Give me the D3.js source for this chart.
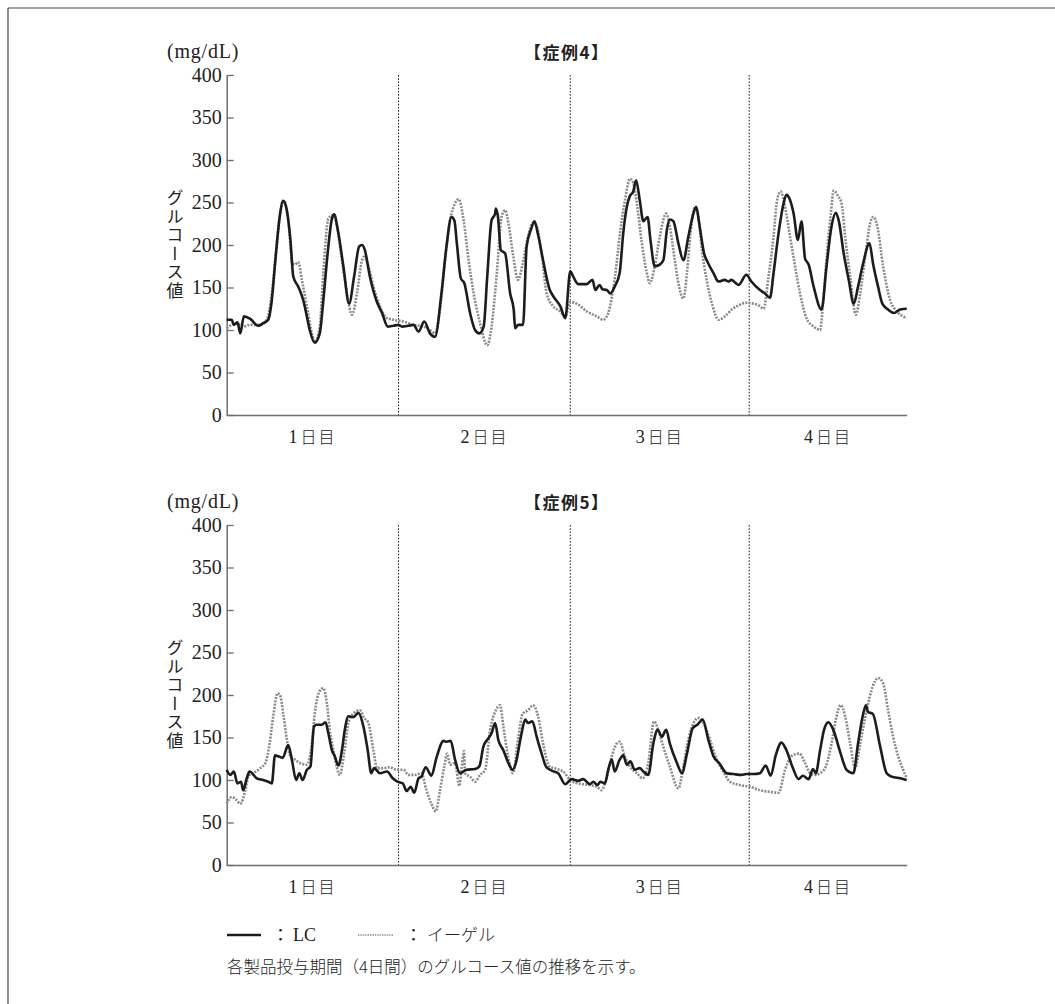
<!DOCTYPE html>
<html>
<head>
<meta charset="utf-8">
<script src="https://cdn.jsdelivr.net/npm/d3@7"></script>
<style>
body { margin: 0; background: #fff; }
</style>
</head>
<body>
<svg id="chart" width="1055" height="1004"></svg>
<script>
// 横軸は経過時間(h)、縦軸はグルコース値(mg/dL)
const DAY_LABELS = ["1", "2", "3", "4"];
const DAY_EDGES = [0, 24, 48, 73, 95]; // 各日の区切り(h)
const Y_TICKS = [0, 50, 100, 150, 200, 250, 300, 350, 400];

// 症例4 LC
const CASE4_LC = [[0,112],[0.7,112],[1.0,106],[1.5,109],[1.9,96],[2.4,116],[3.3,113],[4.4,105],[5.1,108],[5.8,112],[6.3,135],[6.8,182],[7.4,233],[7.9,252],[8.3,245],[8.9,206],[9.3,163],[10.0,151],[10.7,135],[11.2,116],[11.6,100],[12.3,85],[13.0,96],[13.5,135],[14.1,190],[14.7,231],[15.0,236],[15.6,214],[16.3,175],[17.1,131],[17.8,163],[18.5,198],[18.9,200],[19.3,194],[20.0,163],[20.9,135],[21.7,120],[22.5,104],[23.3,105],[24.0,106],[24.5,104],[25.4,105],[26.1,106],[26.8,98],[27.6,110],[28.4,96],[29.1,92],[30.0,143],[30.7,198],[31.4,233],[31.8,229],[32.2,198],[32.7,161],[33.2,155],[34.0,120],[34.7,100],[35.3,96],[35.9,104],[36.4,163],[37.0,229],[37.5,237],[37.6,243],[37.9,233],[38.3,194],[38.9,190],[39.6,143],[40.1,124],[40.3,102],[40.7,106],[41.4,106],[41.9,198],[42.5,218],[43.0,228],[43.5,212],[44.2,182],[45.1,148],[45.6,140],[46.6,128],[47.3,114],[48.0,169],[48.4,163],[49.1,154],[50.3,154],[51.1,159],[51.5,147],[52.1,153],[52.5,148],[53.1,147],[53.6,143],[54.2,151],[54.9,167],[55.4,214],[55.9,245],[56.3,257],[56.8,263],[57.2,276],[57.7,253],[58.2,228],[58.8,233],[59.2,206],[59.8,175],[60.5,177],[61.0,182],[61.5,218],[61.9,230],[62.4,228],[63.1,202],[63.8,182],[64.5,210],[65.2,237],[65.6,245],[66.0,226],[66.7,190],[67.3,178],[68.0,167],[68.7,157],[69.6,159],[70.1,157],[70.5,159],[71.5,153],[72.6,165],[73.3,157],[74.5,147],[75.2,143],[75.9,138],[76.4,167],[77.1,214],[77.8,249],[78.2,259],[78.7,253],[79.2,237],[79.8,206],[80.3,228],[80.8,184],[81.3,177],[82.0,151],[83.1,124],[83.8,175],[84.5,222],[85.1,238],[85.5,229],[86.2,190],[86.9,159],[87.6,131],[88.2,151],[88.9,178],[89.8,202],[90.3,178],[91.0,151],[91.6,131],[92.4,124],[93.2,120],[94.1,124],[95.0,125]];

// 症例4 イーゲル
const CASE4_EAGLE = [[0,102],[1.4,108],[2.3,104],[3.3,106],[4.7,106],[5.6,112],[6.3,143],[7.0,202],[7.55,241],[8.0,251],[8.6,229],[9.2,178],[9.55,177],[10.0,180],[10.5,159],[11.2,128],[11.9,96],[12.3,86],[13.0,104],[13.5,167],[14.2,231],[14.8,235],[15.4,222],[16.1,182],[16.8,143],[17.5,118],[18.2,143],[18.9,182],[19.2,186],[19.8,175],[20.5,151],[21.4,128],[22.4,114],[23.3,112],[24.7,110],[26.1,106],[27.5,104],[28.4,100],[29.1,96],[29.8,124],[30.5,182],[31.2,229],[31.9,249],[32.4,254],[33.1,229],[33.8,182],[34.5,143],[35.4,108],[36.4,82],[37.0,104],[37.7,163],[38.4,233],[38.9,241],[39.35,226],[40.05,186],[40.7,159],[41.35,178],[42.1,210],[42.8,226],[43.3,222],[44.0,190],[44.7,143],[45.6,128],[46.6,122],[47.3,116],[48.0,133],[48.9,131],[50.3,122],[51.7,116],[52.6,112],[53.3,120],[54.25,163],[54.95,214],[55.65,253],[56.35,278],[56.8,273],[57.3,249],[58.0,202],[58.7,167],[59.1,155],[59.8,175],[60.5,210],[61.4,237],[61.9,222],[62.6,182],[63.2,151],[63.8,137],[64.3,167],[64.8,214],[65.4,245],[65.9,233],[66.4,194],[67.05,159],[67.9,128],[68.7,112],[69.6,116],[70.55,124],[71.5,129],[72.6,132],[73.6,131],[74.5,128],[75.0,125],[75.7,163],[76.4,210],[76.9,253],[77.4,263],[78.0,245],[78.7,210],[79.4,175],[80.1,143],[81.0,114],[82.0,104],[82.9,100],[83.35,135],[83.9,194],[84.4,237],[84.8,264],[85.45,257],[85.9,249],[86.4,210],[87.1,163],[87.9,118],[88.5,143],[89.2,186],[89.9,226],[90.3,233],[90.9,222],[91.7,175],[92.7,135],[93.6,122],[94.5,116],[95.0,114]];

// 症例5 LC
const CASE5_LC = [[0,112],[0.5,106],[1.0,110],[1.5,96],[2.0,98],[2.3,88],[2.8,102],[3.2,110],[4.2,102],[5.1,100],[5.8,98],[6.3,96],[6.75,129],[7.2,128],[7.8,126],[8.6,141],[9.1,124],[9.7,100],[10.15,108],[10.6,100],[11.2,112],[11.7,116],[12.2,163],[12.6,165],[13.3,165],[13.8,168],[14.2,155],[14.7,135],[15.1,128],[15.6,117],[16.1,135],[16.5,159],[17.0,175],[17.7,174],[18.4,179],[19.1,163],[19.7,135],[20.2,108],[20.6,114],[21.4,108],[22.4,110],[23.2,102],[23.85,98],[24.6,96],[25.15,87],[25.7,92],[26.2,85],[26.8,102],[27.2,104],[27.8,115],[28.6,105],[29.3,126],[30.3,146],[30.7,145],[31.3,146],[31.9,124],[32.6,108],[33.5,112],[34.7,113],[35.3,116],[35.85,139],[36.55,149],[37.0,155],[37.5,167],[37.95,147],[38.65,135],[39.35,120],[39.95,112],[40.4,120],[41.1,151],[41.7,171],[42.1,167],[42.7,169],[43.3,151],[44.0,131],[44.6,116],[45.4,111],[46.3,108],[47.3,95],[48.2,101],[49.1,99],[49.8,101],[50.75,95],[51.2,98],[51.8,94],[52.2,98],[52.85,96],[53.3,112],[53.8,124],[54.2,110],[54.85,123],[55.4,129],[55.9,118],[56.4,122],[57.0,112],[57.7,114],[58.2,110],[58.9,106],[59.6,143],[60.2,159],[60.8,151],[61.4,159],[61.9,143],[62.9,120],[63.6,108],[64.3,131],[65.1,161],[65.75,165],[66.5,171],[67.3,147],[68.0,128],[68.8,120],[69.85,108],[70.8,107],[71.9,106],[72.6,107],[73.6,107],[74.5,108],[75.3,117],[76.0,105],[76.7,129],[77.5,144],[78.2,135],[79.1,114],[79.9,101],[80.5,105],[81.3,101],[81.9,113],[82.3,108],[82.9,135],[83.45,159],[84.05,168],[84.75,159],[85.7,133],[86.6,112],[87.55,108],[88.2,143],[88.85,175],[89.3,188],[89.6,180],[90.25,178],[91.3,139],[92.2,108],[92.9,104],[94.1,102],[95.0,100]];

// 症例5 イーゲル
const CASE5_EAGLE = [[0,72],[0.7,80],[1.3,77],[1.9,72],[2.6,88],[3.0,104],[3.7,108],[4.7,114],[5.4,120],[6.0,143],[6.5,175],[7.1,202],[7.45,200],[7.9,178],[8.4,148],[8.9,128],[9.55,124],[10.25,120],[11.2,118],[11.9,143],[12.3,178],[12.95,204],[13.5,208],[14.0,190],[14.4,159],[15.0,131],[15.8,106],[16.4,131],[17.0,167],[17.7,178],[18.6,182],[19.2,173],[19.8,167],[20.5,135],[21.0,114],[21.9,114],[22.8,115],[23.75,112],[24.7,112],[25.4,106],[26.3,106],[27.2,108],[27.9,88],[28.6,72],[29.2,63],[29.8,88],[30.4,116],[30.8,131],[31.2,118],[31.9,120],[32.5,93],[32.8,112],[33.15,134],[33.3,108],[34.0,104],[34.7,98],[35.4,106],[36.1,112],[36.8,159],[37.6,182],[38.2,188],[38.65,163],[39.3,128],[40.0,108],[40.7,148],[41.35,178],[42.1,182],[42.8,188],[43.5,175],[44.2,143],[45.1,116],[46.1,113],[47.0,110],[48.0,100],[49.1,96],[50.8,94],[51.7,92],[52.4,88],[53.1,104],[53.8,128],[54.5,143],[54.9,145],[55.6,128],[56.3,116],[57.3,108],[58.1,102],[58.9,120],[59.7,169],[60.3,159],[61.0,139],[61.9,116],[63.1,90],[63.8,116],[64.5,148],[65.2,167],[65.9,173],[66.6,167],[67.5,148],[68.45,124],[69.4,110],[70.3,98],[71.7,94],[73.1,92],[74.5,88],[75.9,86],[77.1,85],[78.0,112],[78.9,128],[80.0,131],[80.8,120],[81.5,108],[82.2,106],[82.9,108],[83.7,116],[84.5,143],[85.2,175],[85.8,188],[86.4,175],[87.1,143],[87.8,114],[88.5,143],[89.4,182],[90.25,210],[91.0,220],[91.7,214],[92.4,182],[93.1,151],[93.8,128],[94.5,112],[95.0,102]];

const SVG = d3.select('#chart');
const SERIF = "'Liberation Serif', 'DejaVu Serif', serif";
const JP = "'Noto Sans CJK JP', sans-serif";
const X_SCALE = d3.scaleLinear().domain([0, 95]).range([226.7, 906.7]);
const Y_SCALE = d3.scaleLinear().domain([0, 400]).range([340, 0]);
const LC_COR = "#1c1c1c";
const EAGLE_COR = "#8a8a8a";
const AXIS_COR = "#6e6e6e";

// 枠線(上・左)
SVG.append("line").attr("x1", 8).attr("y1", 8).attr("x2", 1055).attr("y2", 8)
    .attr("stroke", "#444").attr("stroke-width", 1.2);
SVG.append("line").attr("x1", 8).attr("y1", 8).attr("x2", 8).attr("y2", 1004)
    .attr("stroke", "#444").attr("stroke-width", 1.2);

/** パネル1枚を描く **/
function draw_panel(top, case_no, lc, eagle) {
    let g = SVG.append("g").attr("transform", `translate(0,${top})`);

    // 日の区切り
    g.selectAll(".divider").data(DAY_EDGES.slice(1, -1)).join("line")
        .attr("x1", d => X_SCALE(d)).attr("x2", d => X_SCALE(d))
        .attr("y1", 0).attr("y2", 340)
        .attr("stroke", "#222").attr("stroke-width", 1)
        .attr("stroke-dasharray", "1.6 1.6");

    // y軸
    let y_axis = g.append("g").attr("transform", `translate(${X_SCALE(0)},0)`)
        .call(d3.axisLeft(Y_SCALE).tickValues(Y_TICKS).tickSizeInner(-7).tickSizeOuter(0).tickPadding(5));
    y_axis.select(".domain").attr("stroke", AXIS_COR).attr("stroke-width", 1.5);
    y_axis.selectAll(".tick line").attr("stroke", AXIS_COR).attr("stroke-width", 1.3);
    y_axis.selectAll(".tick text")
        .attr("font-family", SERIF).attr("font-size", 20).attr("fill", "#222");

    // x軸
    let x_axis = g.append("g").attr("transform", "translate(0,340)")
        .call(d3.axisBottom(X_SCALE).tickValues([]).tickSizeOuter(0));
    x_axis.select(".domain").attr("stroke", AXIS_COR).attr("stroke-width", 1.5);

    // 日付ラベル
    let day_text = g.selectAll(".day").data(DAY_LABELS).join("text")
        .attr("x", (d, i) => X_SCALE((DAY_EDGES[i] + DAY_EDGES[i + 1]) / 2))
        .attr("y", 368)
        .attr("text-anchor", "middle")
        .attr("fill", "#222");
    day_text.append("tspan").attr("font-family", SERIF).attr("font-size", 18).text(d => d);
    day_text.append("tspan").attr("font-family", JP).attr("font-size", 16).attr("font-weight", 300)
        .attr("letter-spacing", 2).attr("dx", 3).text("日目");

    // 単位・タイトル
    g.append("text").attr("x", 167).attr("y", -17)
        .attr("font-family", SERIF).attr("font-size", 20).attr("letter-spacing", 0.8).attr("fill", "#222")
        .text("(mg/dL)");
    g.append("text").attr("x", X_SCALE(47.5)).attr("y", -16)
        .attr("text-anchor", "middle").attr("font-family", JP).attr("font-size", 17)
        .attr("font-weight", "bold").attr("letter-spacing", 1.5).attr("fill", "#222")
        .text(`【症例${case_no}】`);

    // 縦書きの軸名
    g.append("text").attr("x", 175).attr("y", 170)
        .attr("text-anchor", "middle")
        .style("writing-mode", "vertical-rl")
        .attr("font-family", JP).attr("font-size", 17).attr("letter-spacing", 1.5).attr("fill", "#222")
        .text("グルコース値");

    // 系列
    let line = d3.line().x(d => X_SCALE(d[0])).y(d => Y_SCALE(d[1])).curve(d3.curveMonotoneX);
    g.append("path").datum(eagle).attr("d", line)
        .attr("fill", "none").attr("stroke", EAGLE_COR).attr("stroke-width", 2.6)
        .attr("stroke-dasharray", "2 1.3");
    g.append("path").datum(lc).attr("d", line)
        .attr("fill", "none").attr("stroke", LC_COR).attr("stroke-width", 2.6)
        .attr("stroke-linejoin", "round");
}

draw_panel(75, 4, CASE4_LC, CASE4_EAGLE);
draw_panel(525, 5, CASE5_LC, CASE5_EAGLE);

// 凡例
SVG.append("line").attr("x1", 227).attr("x2", 261).attr("y1", 935).attr("y2", 935)
    .attr("stroke", LC_COR).attr("stroke-width", 2.6);
SVG.append("text").attr("x", 272).attr("y", 941)
    .attr("font-family", JP).attr("font-size", 17).attr("fill", "#222").text("：");
SVG.append("text").attr("x", 293).attr("y", 941)
    .attr("font-family", SERIF).attr("font-size", 18).attr("fill", "#222").text("LC");

SVG.append("line").attr("x1", 358).attr("x2", 393).attr("y1", 935).attr("y2", 935)
    .attr("stroke", EAGLE_COR).attr("stroke-width", 1.6).attr("stroke-dasharray", "1.4 1");
SVG.append("text").attr("x", 405).attr("y", 941)
    .attr("font-family", JP).attr("font-size", 17).attr("fill", "#222").text("：");
SVG.append("text").attr("x", 427).attr("y", 941)
    .attr("font-family", JP).attr("font-size", 17).attr("font-weight", 300).attr("fill", "#222")
    .text("イーゲル");

// 注釈
SVG.append("text").attr("x", 227).attr("y", 973)
    .attr("font-family", JP).attr("font-size", 16.5).attr("font-weight", 300).attr("fill", "#222")
    .text("各製品投与期間（4日間）のグルコース値の推移を示す。");
</script>
</body>
</html>
